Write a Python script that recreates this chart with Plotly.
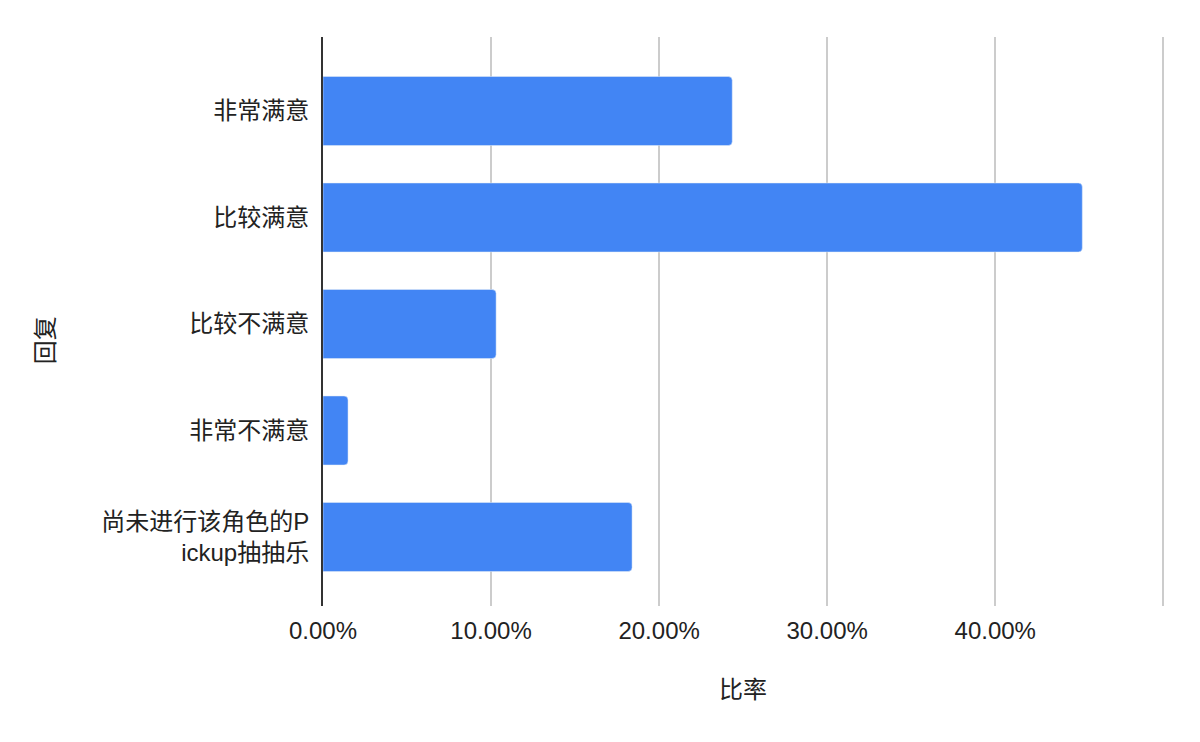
import plotly.graph_objects as go

# Data
responses = ['非常满意', '比较满意', '比较不满意', '非常不满意', '尚未进行该角色的P<br>ickup抽抽乐']
ratios = [0.2435, 0.4518, 0.1030, 0.0149, 0.1839]
tick_vals = [0, 0.1, 0.2, 0.3, 0.4, 0.5]
tick_labels = ['0.00%', '10.00%', '20.00%', '30.00%', '40.00%', '']

font_family = 'Liberation Sans, Arial, Noto Sans CJK SC, sans-serif'

fig = go.Figure(go.Bar(
    x=ratios,
    y=responses,
    orientation='h',
    marker_color='#4285F4',
    marker_cornerradius=4,
    width=0.648,
))

# page body adds an 8px margin, so margins are shifted to line up the plot area
fig.update_layout(
    width=1200,
    height=742,
    margin=dict(l=315, r=43, t=29, b=144),
    plot_bgcolor='white',
    paper_bgcolor='white',
    showlegend=False,
    font=dict(family=font_family, size=24, color='#222222'),
    annotations=[
        dict(text='比率', xref='paper', yref='paper', x=0.4988, y=-0.1476,
             xanchor='center', yanchor='middle',
             showarrow=False, font=dict(size=24, color='#222222')),
        dict(text='回复', xref='paper', yref='paper', x=-0.3286, y=0.4675,
             xanchor='center', yanchor='middle',
             textangle=-90, showarrow=False, font=dict(size=24, color='#222222')),
    ],
)

# range runs a hair past 50% so the last gridline is still drawn
fig.update_xaxes(
    range=[0, 0.501],
    tickvals=tick_vals,
    ticktext=tick_labels,
    showgrid=True,
    gridcolor='#cccccc',
    gridwidth=1.5,
    zeroline=False,
    ticklabelstandoff=8,
)
fig.update_yaxes(
    range=[4.648, -0.695],
    showgrid=False,
    showline=True,
    linecolor='#333333',
    linewidth=2,
    ticklabelstandoff=7,
)

fig.write_html('out.html')
